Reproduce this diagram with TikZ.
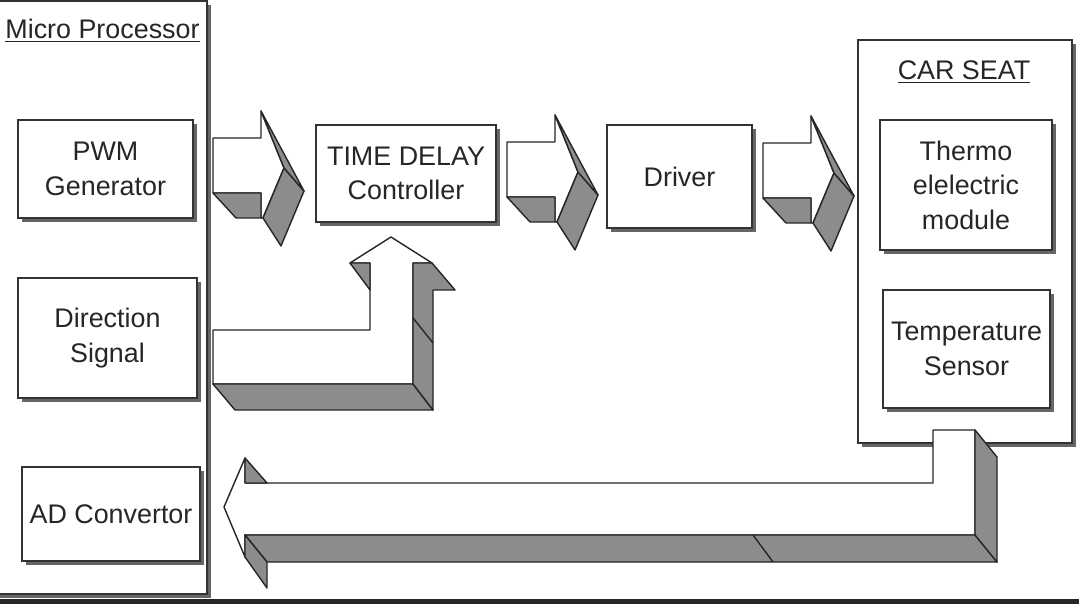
\documentclass[tikz,border=0pt]{standalone}
\usepackage{fontspec}
\setmainfont{Liberation Sans}
\begin{document}
\begin{tikzpicture}[x=0.02cm, y=-0.02cm,
    box/.style={draw=black!80, line width=0.9pt, fill=white, align=center, inner sep=0pt, text=black!85,
      font=\fontsize{15.3}{19.6}\selectfont,
      preaction={fill=black!60, transform canvas={xshift=0.08cm, yshift=-0.08cm}}},
    lbl/.style={inner sep=0pt, text=black!85, font=\fontsize{15.3}{19.6}\selectfont, anchor=base},
    face/.style={draw=black!85, line width=0.8pt, line join=round},
    side/.style={face, fill=black!45}]
    \useasboundingbox[fill=white] (0,0) rectangle (1079,604);

    \node[box, minimum width=4.34cm, minimum height=11.86cm] (micro) at (98.5,297.5) {};
    \node[box, minimum width=4.28cm, minimum height=8.06cm] (seat) at (965,241.5) {};
    \node[lbl] (mplbl) at (102.5,39) {\underline{Micro Processor}};
    \node[lbl] (seatlbl) at (964,80) {\underline{CAR SEAT}};

    \node[box, minimum width=3.5cm, minimum height=1.96cm] (pwm) at (105.5,169) {PWM\\Generator};
    \node[box, minimum width=3.58cm, minimum height=2.4cm] (dir) at (107.5,338) {Direction\\Signal};
    \node[box, minimum width=3.56cm, minimum height=1.88cm] (adc) at (111,514) {AD Convertor};
    \node[box, minimum width=3.6cm, minimum height=1.94cm] (tdc) at (406,173.5) {TIME DELAY\\Controller};
    \node[box, minimum width=2.9cm, minimum height=2.06cm] (drv) at (679.5,176.5) {Driver};
    \node[box, minimum width=3.44cm, minimum height=2.6cm] (tem) at (966,185) {Thermo\\elelectric\\module};
    \node[box, minimum width=3.34cm, minimum height=2.36cm] (sen) at (966.5,349) {Temperature\\Sensor};

    \foreach \ox/\oy in {213/138, 507/142, 763/143} {
      \begin{scope}[shift={(\ox,\oy)}]
        \draw[face, fill=white] (0,0) -- (48,0) -- (48,-27) -- (71,30) -- (50,80) -- (48,80) -- (48,55) -- (0,55) -- cycle;
        \draw[side] (0,55) -- (48,55) -- (48,80) -- (23,80) -- cycle;
        \draw[side] (71,30) -- (91,53) -- (68,108) -- (50,80) -- cycle;
        \draw[side] (48,-27) -- (91,53) -- (71,30) -- cycle;
      \end{scope}
    }

    \draw[face, fill=white] (213,330) -- (370,330) -- (370,263) -- (350,263) -- (391,237) -- (432,263) -- (413,263) -- (413,384) -- (213,384) -- cycle;
    \draw[side] (213,384) -- (413,384) -- (433,410) -- (235,410) -- cycle;
    \draw[side] (413,263) -- (432,263) -- (455,290) -- (433,290) -- (433,410) -- (413,384) -- cycle;
    \draw[side] (350,263) -- (370,263) -- (370,290) -- cycle;
    \draw[face] (413,318) -- (433,343);

    \draw[face, fill=white] (933,430) -- (975,430) -- (975,535) -- (245,535) -- (245,557) -- (224,507) -- (245,458) -- (245,483) -- (933,483) -- cycle;
    \draw[side] (245,458) -- (267,483) -- (245,483) -- cycle;
    \draw[side] (245,535) -- (975,535) -- (997,562) -- (267,562) -- cycle;
    \draw[side] (245,535) -- (245,557) -- (267,588) -- (267,562) -- cycle;
    \draw[side] (975,430) -- (997,457) -- (997,562) -- (975,535) -- cycle;
    \draw[face] (753,535) -- (773,562);

    \fill[black!85] (0,599) rectangle (1079,604);
\end{tikzpicture}
\end{document}
